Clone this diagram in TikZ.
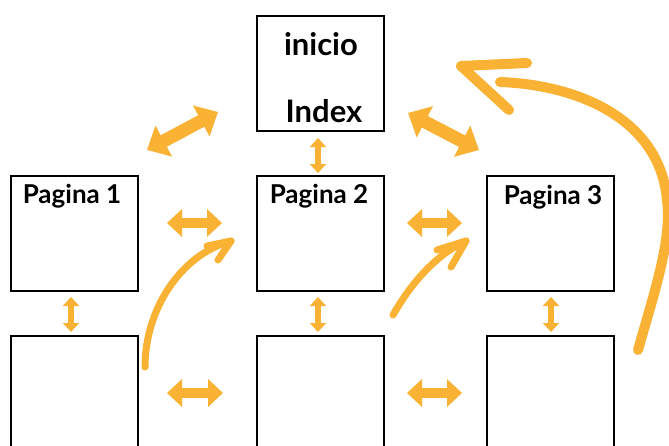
\documentclass[tikz,border=0pt]{standalone}
\usepackage{fontspec}
\setmainfont{Lato}
\usetikzlibrary{arrows.meta}
\definecolor{orng}{RGB}{249,178,51}
\tikzset{
  box/.style={draw=black, line width=2.6pt, minimum width=127pt, minimum height=115pt, inner sep=0pt},
  lowbox/.style={draw=black, line width=2.6pt, minimum width=127pt, minimum height=130pt, inner sep=0pt},
  bigtxt/.style={font=\bfseries\fontsize{31}{31}\selectfont, anchor=base, inner sep=0pt},
  pgtxt/.style={font=\bfseries\fontsize{26}{26}\selectfont, anchor=base, inner sep=0pt},
  bigdbl/.style={draw=orng, line width=13pt, {Triangle[width=34pt,length=19pt]}-{Triangle[width=34pt,length=19pt]}},
  hdbl/.style={draw=orng, line width=10pt, {Triangle[width=27pt,length=15pt]}-{Triangle[width=27pt,length=15pt]}},
  vdbl/.style={draw=orng, line width=6.5pt, {Triangle[width=16pt,length=9pt]}-{Triangle[width=16pt,length=9pt]}},
  hand/.style={draw=orng, line width=7pt, line cap=round, line join=round},
  bighand/.style={draw=orng, line width=10pt, line cap=round, line join=round}
}
\begin{document}
\begin{tikzpicture}[x=1pt,y=-1pt]
\clip (0,0) rectangle (669,445);
\fill[white] (0,0) rectangle (669,445);
% boxes
\node[box] (ini) at (320.5,73.5) {};
\node[box] (p1) at (74.5,233.5) {};
\node[box] (p2) at (320.5,233.5) {};
\node[box] (p3) at (550.5,233.5) {};
\node[lowbox] (b1) at (74.5,401) {};
\node[lowbox] (b2) at (320.5,401) {};
\node[lowbox] (b3) at (550.5,401) {};
% texts
\node[bigtxt] (tini) at (321,55) {inicio};
\node[bigtxt] (tidx) at (324,122) {Index};
\node[pgtxt] (t1) at (72,203) {Pagina 1};
\node[pgtxt] (t2) at (319,203) {Pagina 2};
\node[pgtxt] (t3) at (553,204) {Pagina 3};
% block arrows
\coordinate (d1a) at (147,150); \coordinate (d1b) at (218,112);
\coordinate (d2a) at (408,113); \coordinate (d2b) at (479,150);
\draw[bigdbl] (d1a) -- (d1b);
\draw[bigdbl] (d2a) -- (d2b);
\coordinate (v0a) at (318,138); \coordinate (v0b) at (318,173);
\draw[vdbl] (v0a) -- (v0b);
\coordinate (h1a) at (167,223); \coordinate (h1b) at (222,223);
\coordinate (h2a) at (407,223); \coordinate (h2b) at (462,223);
\coordinate (h3a) at (167,393); \coordinate (h3b) at (223,393);
\coordinate (h4a) at (407,393); \coordinate (h4b) at (462,393);
\draw[hdbl] (h1a) -- (h1b);
\draw[hdbl] (h2a) -- (h2b);
\draw[hdbl] (h3a) -- (h3b);
\draw[hdbl] (h4a) -- (h4b);
\coordinate (v1a) at (71,297); \coordinate (v1b) at (71,332);
\coordinate (v2a) at (318,297); \coordinate (v2b) at (318,332);
\coordinate (v3a) at (551,297); \coordinate (v3b) at (551,332);
\draw[vdbl] (v1a) -- (v1b);
\draw[vdbl] (v2a) -- (v2b);
\draw[vdbl] (v3a) -- (v3b);
% hand-drawn arrows
\coordinate (c1s) at (145,367); \coordinate (c1t) at (231,241);
\coordinate (c1h1) at (207,246); \coordinate (c1h2) at (218,260);
\draw[hand] (c1s) .. controls (145,310) and (180,255) .. (c1t);
\draw[hand] (c1h1) -- (c1t) -- (c1h2);
\coordinate (c2s) at (393,315); \coordinate (c2t) at (466,241);
\coordinate (c2h1) at (437,250); \coordinate (c2h2) at (451,267);
\draw[hand] (c2s) .. controls (410,285) and (435,255) .. (c2t);
\draw[hand] (c2h1) -- (c2t) -- (c2h2);
\coordinate (c3s) at (638,350); \coordinate (c3m) at (667,200); \coordinate (c3e) at (500,82);
\coordinate (c3t) at (461,66); \coordinate (c3h1) at (527,63); \coordinate (c3h2) at (509,110);
\draw[bighand] (c3s) .. controls (655,290) and (672,240) .. (c3m) .. controls (660,120) and (580,85) .. (c3e);
\draw[bighand] (c3h1) -- (c3t) -- (c3h2);
\end{tikzpicture}
\end{document}
